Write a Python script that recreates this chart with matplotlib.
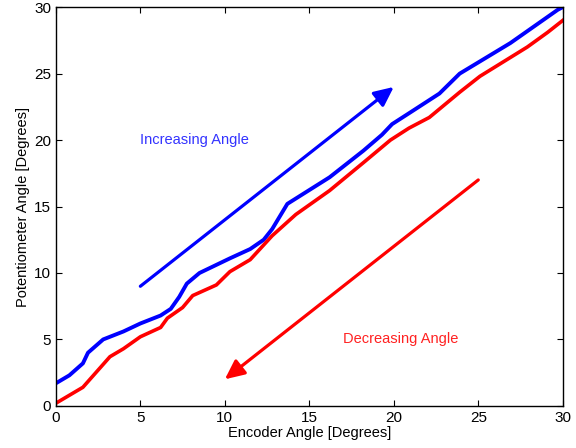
import matplotlib
matplotlib.use("Agg")
import matplotlib.pyplot as plt

# Data
blue_x = [0, 0.8, 1.6, 1.9, 2.8, 4, 5, 6.2, 6.8, 7.3, 7.75, 8.5, 10.3, 11.5, 12.3, 12.8, 13.7,
          16.2, 18.2, 19.3, 19.9, 21, 22.7, 23.9, 26.9, 29.7, 30]
blue_y = [1.7, 2.3, 3.2, 4.0, 5.0, 5.6, 6.2, 6.8, 7.3, 8.2, 9.2, 10.0, 11.1, 11.8, 12.5, 13.3, 15.2,
          17.2, 19.2, 20.4, 21.2, 22.1, 23.5, 25.0, 27.3, 29.8, 30.0]
red_x = [0, 1.6, 3.2, 4, 5, 6.2, 6.6, 7.5, 8.1, 9.5, 10.3, 11.5, 12.8, 14.2, 16.2, 18.2, 19.8, 20.9,
         22.1, 23.9, 25.1, 26.5, 27.9, 29.1, 30]
red_y = [0.2, 1.4, 3.7, 4.3, 5.2, 5.9, 6.6, 7.4, 8.3, 9.1, 10.1, 11.0, 12.8, 14.4, 16.2, 18.3, 20.0, 20.9,
         21.7, 23.6, 24.8, 25.9, 27.0, 28.1, 29.0]
inc_arrow = [(5, 9), (20, 24)]
dec_arrow = [(25, 17), (10, 2)]
inc_label = ("Increasing Angle", 5, 20)
dec_label = ("Decreasing Angle", 17, 5)
ticks = [0, 5, 10, 15, 20, 25, 30]

plt.rcParams['font.family'] = ['Liberation Sans', 'DejaVu Sans']
fig = plt.figure(figsize=(5.76, 4.48), dpi=100)
ax = fig.add_axes([0.097, 0.094, 0.88, 0.89])

ax.plot(blue_x, blue_y, color='#0000ff', lw=2.8)
ax.plot(red_x, red_y, color='#ff0000', lw=2.6)

astyle = '-|>,head_length=0.9,head_width=0.42'
ax.annotate('', xy=inc_arrow[1], xytext=inc_arrow[0],
            arrowprops=dict(arrowstyle=astyle, lw=2.3, color='#0000ff',
                            shrinkA=0, shrinkB=0, mutation_scale=13))
ax.annotate('', xy=dec_arrow[1], xytext=dec_arrow[0],
            arrowprops=dict(arrowstyle=astyle, lw=2.3, color='#ff0000',
                            shrinkA=0, shrinkB=0, mutation_scale=13))
ax.text(inc_label[1], inc_label[2], inc_label[0], color='#3333ff', fontsize=10.5,
        ha='left', va='center')
ax.text(dec_label[1], dec_label[2], dec_label[0], color='#ff2222', fontsize=10.5,
        ha='left', va='center')

ax.set_xlim(0, 30)
ax.set_ylim(0, 30)
ax.set_xticks(ticks)
ax.set_yticks(ticks)
ax.tick_params(direction='in', top=True, right=True, labelsize=11, length=4, width=0.8)
for s in ax.spines.values():
    s.set_linewidth(1.0)
ax.set_xlabel('Encoder Angle [Degrees]', fontsize=10.5, labelpad=1)
ax.set_ylabel('Potentiometer Angle [Degrees]', fontsize=10.5, labelpad=3)

fig.savefig('out.png', dpi=100)
